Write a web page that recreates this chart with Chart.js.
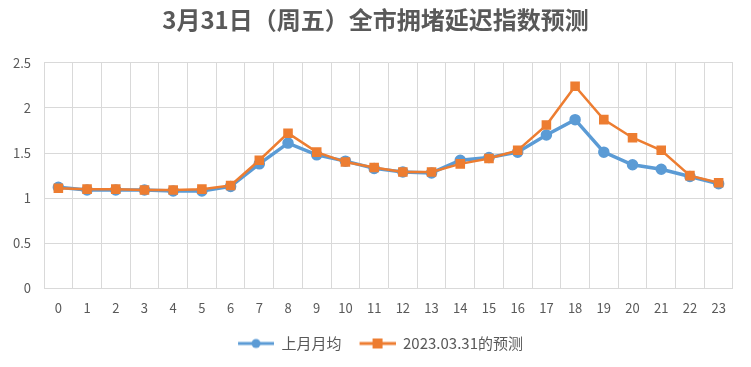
<!DOCTYPE html>
<html>
<head>
<meta charset="utf-8">
<script src="https://cdn.jsdelivr.net/npm/chart.js@4"></script>
<style>
  html, body { margin: 0; padding: 0; background: #fff; }
  #wrap { width: 751px; height: 367px; }
</style>
</head>
<body>
<div id="wrap"><canvas id="chart" width="751" height="367"></canvas></div>
<script>
const hours = ["0","1","2","3","4","5","6","7","8","9","10","11","12","13","14","15","16","17","18","19","20","21","22","23"];
const lastMonthAvg = [1.12,1.09,1.09,1.09,1.08,1.08,1.13,1.38,1.61,1.48,1.41,1.33,1.29,1.28,1.42,1.45,1.51,1.70,1.87,1.51,1.37,1.32,1.24,1.16];
const forecast = [1.11,1.10,1.10,1.09,1.09,1.10,1.14,1.42,1.72,1.51,1.40,1.34,1.29,1.29,1.38,1.44,1.53,1.81,2.24,1.87,1.67,1.53,1.25,1.17];
const seriesNames = ["上月月均", "2023.03.31的预测"];

const blue = "#5B9BD5";
const orange = "#ED7D31";
const textColor = "#595959";
const fontFamily = "'Noto Sans CJK SC', 'Noto Sans', sans-serif";

// legend swatch: line with the marker in the middle (blank strip on the left spaces the items)
function swatch(color, square) {
  const c = document.createElement("canvas");
  c.width = 46; c.height = 12;
  const g = c.getContext("2d");
  g.strokeStyle = color;
  g.lineWidth = 3;
  g.beginPath(); g.moveTo(10, 6); g.lineTo(46, 6); g.stroke();
  g.fillStyle = color;
  if (square) g.fillRect(23, 1, 10, 10);
  else { g.beginPath(); g.arc(28, 6, 4.5, 0, Math.PI * 2); g.fill(); }
  return c;
}

// center title and legend on the whole canvas, not on the padded box
const centerBoxes = {
  id: "centerBoxes",
  afterLayout(chart) {
    [chart.titleBlock, chart.legend].forEach((b) => {
      if (b) { b.left = 0; b.right = chart.width; b.width = chart.width; }
    });
  },
};

const ctx = document.getElementById("chart").getContext("2d");
new Chart(ctx, {
  type: "line",
  data: {
    labels: hours,
    datasets: [
      {
        label: seriesNames[0],
        data: lastMonthAvg,
        borderColor: blue,
        backgroundColor: blue,
        borderWidth: 3.5,
        pointStyle: "circle",
        pointRadius: 4,
        pointHoverRadius: 4,
        tension: 0,
        order: 1,
      },
      {
        label: seriesNames[1],
        data: forecast,
        borderColor: orange,
        backgroundColor: orange,
        borderWidth: 2.5,
        pointStyle: "rect",
        pointRadius: 5,
        pointHoverRadius: 5,
        tension: 0,
        order: 0,
      },
    ],
  },
  plugins: [centerBoxes],
  options: {
    responsive: false,
    animation: false,
    layout: { padding: { left: 0, right: 18, top: 4, bottom: 6 } },
    plugins: {
      title: {
        display: true,
        text: "3月31日（周五）全市拥堵延迟指数预测",
        color: textColor,
        font: { family: fontFamily, size: 24, weight: "bold" },
        padding: { top: 1, bottom: 29 },
      },
      legend: {
        position: "bottom",
        labels: {
          usePointStyle: true,
          pointStyleWidth: 46,
          color: textColor,
          font: { family: fontFamily, size: 15 },
          padding: 8,
          generateLabels: (chart) =>
            chart.data.datasets.map((ds, i) => ({
              text: ds.label,
              fontColor: textColor,
              pointStyle: swatch(ds.borderColor, i === 1),
              datasetIndex: i,
              lineWidth: 0,
            })),
        },
      },
      tooltip: { enabled: false },
    },
    scales: {
      x: {
        offset: true,
        grid: { offset: true, color: "#d9d9d9", drawTicks: false },
        border: { display: false },
        ticks: { color: textColor, font: { family: fontFamily, size: 13 }, padding: 12, maxRotation: 0, autoSkip: false },
      },
      y: {
        min: 0,
        max: 2.5,
        afterFit: (scale) => { scale.width = 44; },
        grid: { color: "#d9d9d9", drawTicks: false },
        border: { display: false },
        ticks: {
          stepSize: 0.5,
          color: textColor,
          font: { family: fontFamily, size: 13 },
          padding: 13,
          callback: (v) => String(v),
        },
      },
    },
  },
});
</script>
</body>
</html>
